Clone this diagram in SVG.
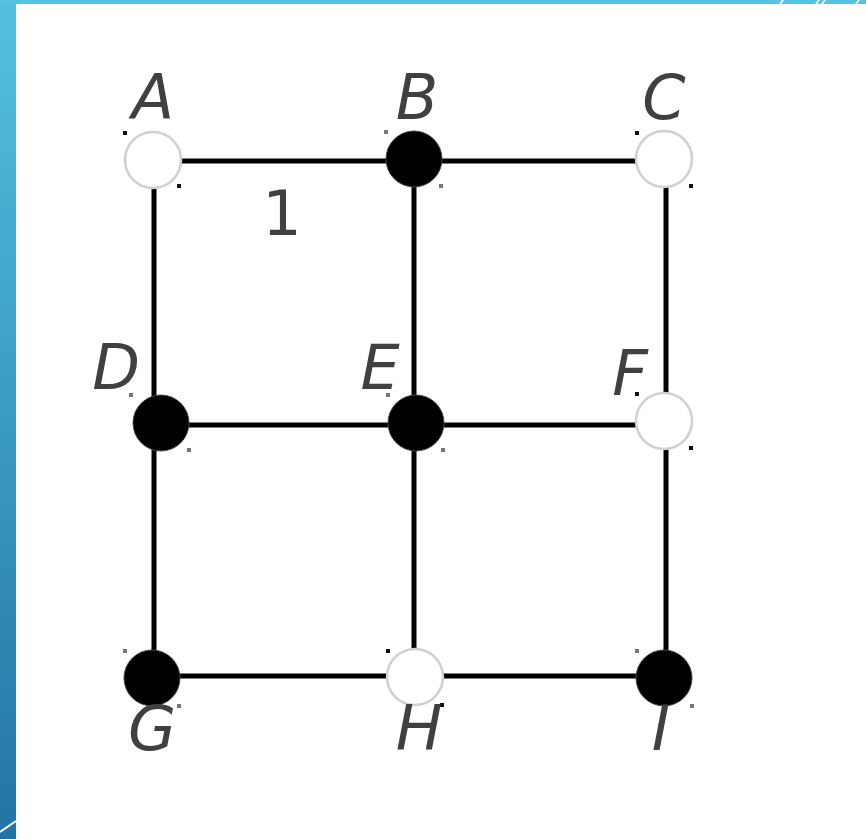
<svg xmlns="http://www.w3.org/2000/svg" width="866" height="839" viewBox="0 0 866 839">
<style>
.edge{stroke:#000;stroke-width:5;stroke-linecap:butt;fill:none}
.open{fill:#fff;stroke:#d0d0d0;stroke-width:2.5}
.full{fill:#000;stroke:#444;stroke-width:1}
.lbl{font-family:"DejaVu Sans",sans-serif;font-style:oblique;font-size:62px;fill:#404040;text-anchor:middle}
.num{font-family:"DejaVu Sans",sans-serif;font-size:62px;fill:#404040;text-anchor:middle}
.dk{fill:#111}
.gr{fill:#777}
</style>
<defs>
<linearGradient id="side" x1="0" y1="0" x2="0" y2="1">
<stop offset="0" stop-color="#54c1df"/>
<stop offset="1" stop-color="#2274a5"/>
</linearGradient>
</defs>
<rect width="866" height="839" fill="#fff"/>
<rect x="0" y="0" width="16" height="839" fill="url(#side)"/>
<rect x="0" y="0" width="866" height="4" fill="#55c3e2"/>
<g fill="#fff">
<polygon points="779,4 781,4 784,0 782,0"/>
<polygon points="815,4 817,4 820,0 818,0"/>
<polygon points="821,4 823,4 826,0 824,0"/>
<polygon points="855,4 857,4 860,0 858,0"/>
</g>
<line x1="0" y1="832" x2="16" y2="821" stroke="#fff" stroke-width="2"/>
<g id="connectors">
<line class="edge" x1="154" y1="161" x2="666" y2="161"/>
<line class="edge" x1="154" y1="425" x2="666" y2="425"/>
<line class="edge" x1="154" y1="676" x2="666" y2="676"/>
<line class="edge" x1="154" y1="161" x2="154" y2="676"/>
<line class="edge" x1="414" y1="161" x2="414" y2="676"/>
<line class="edge" x1="666" y1="161" x2="666" y2="676"/>
</g>
<text class="num" x="282" y="235">1</text>
<g id="A"><circle class="open" cx="153" cy="160" r="28"/><rect class="dk" x="123" y="131" width="4" height="4"/><rect class="dk" x="177" y="184" width="4" height="4"/><text class="lbl" x="153" y="119">A</text></g>
<g id="B"><circle class="full" cx="414" cy="159" r="28"/><rect class="gr" x="384" y="130" width="4" height="4"/><rect class="gr" x="439" y="184" width="4" height="4"/><text class="lbl" x="417" y="119">B</text></g>
<g id="C"><circle class="open" cx="664" cy="159" r="28"/><rect class="dk" x="635" y="131" width="4" height="4"/><rect class="dk" x="689" y="184" width="4" height="4"/><text class="lbl" x="664" y="119">C</text></g>
<g id="D"><circle class="full" cx="161" cy="423" r="28"/><rect class="gr" x="129" y="393" width="4" height="4"/><rect class="gr" x="187" y="448" width="4" height="4"/><text class="lbl" x="116" y="389">D</text></g>
<g id="E"><circle class="full" cx="416" cy="423" r="28"/><rect class="gr" x="386" y="393" width="4" height="4"/><rect class="gr" x="441" y="448" width="4" height="4"/><text class="lbl" x="380" y="389">E</text></g>
<g id="F"><circle class="open" cx="664" cy="421" r="28"/><rect class="dk" x="635" y="392" width="4" height="4"/><rect class="dk" x="689" y="446" width="4" height="4"/><text class="lbl" x="630" y="395">F</text></g>
<g id="G"><circle class="full" cx="152" cy="678" r="28"/><rect class="gr" x="123" y="649" width="4" height="4"/><rect class="gr" x="177" y="704" width="4" height="4"/><text class="lbl" x="152" y="750">G</text></g>
<g id="H"><circle class="open" cx="415" cy="677" r="28"/><rect class="dk" x="386" y="649" width="4" height="4"/><rect class="dk" x="440" y="703" width="4" height="4"/><text class="lbl" x="419" y="750">H</text></g>
<g id="I"><circle class="full" cx="664" cy="678" r="28"/><rect class="gr" x="635" y="649" width="4" height="4"/><rect class="gr" x="690" y="704" width="4" height="4"/><text class="lbl" x="661" y="750">I</text></g>
</svg>
